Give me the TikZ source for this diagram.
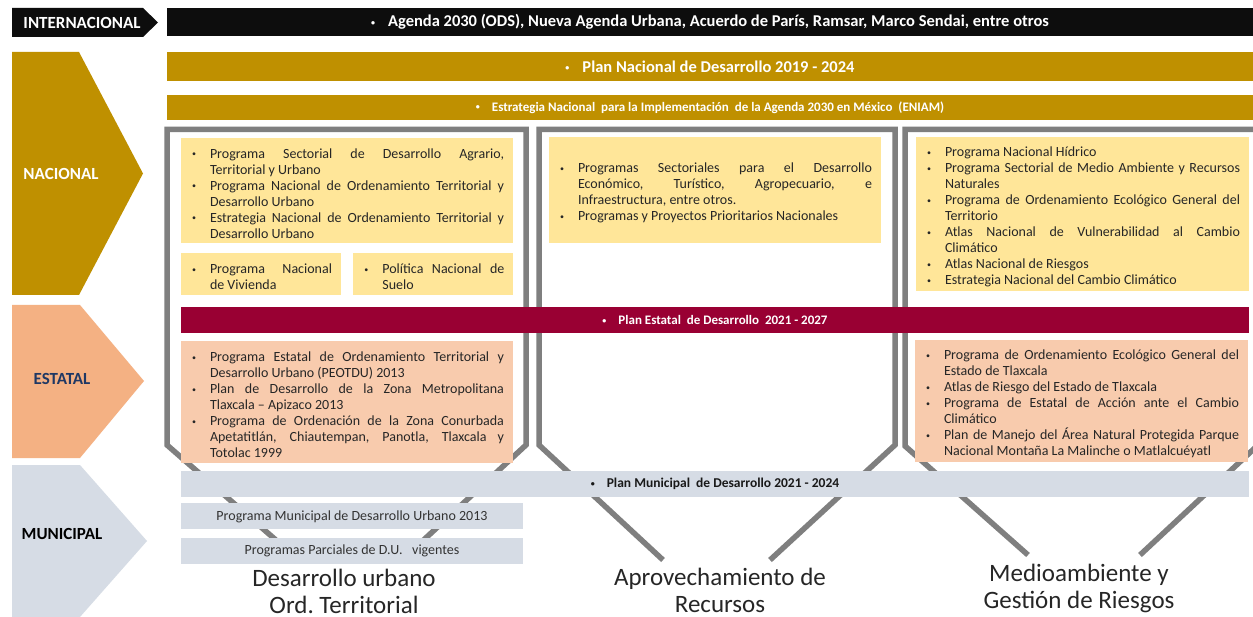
\documentclass[tikz,border=0pt]{standalone}
\usepackage{fontspec}
\setmainfont{Carlito}
\usepackage{tikz}
\usetikzlibrary{positioning}
\definecolor{negro}{HTML}{0D0D0D}
\definecolor{oro}{HTML}{BF9000}
\definecolor{amarillo}{HTML}{FFE699}
\definecolor{salmon}{HTML}{F4B183}
\definecolor{durazno}{HTML}{F8CBAD}
\definecolor{guinda}{HTML}{990033}
\definecolor{azulgris}{HTML}{D6DCE5}
\definecolor{marino}{HTML}{1F3864}
\definecolor{marco}{HTML}{7F7F7F}
\tikzstyle{nivel} = [inner sep=0pt, font=\bfseries\fontsize{17}{19}\selectfont]
\tikzstyle{barra} = [rectangle, minimum width=1068pt, minimum height=26pt, inner sep=0pt, text=white, font=\bfseries\fontsize{13.5}{16}\selectfont]
\tikzstyle{lista} = [rectangle, inner xsep=9pt, inner ysep=0pt, align=justify, text=black!85, font=\fontsize{14}{16}\selectfont]
\tikzstyle{programa} = [rectangle, minimum width=342pt, minimum height=26pt, inner sep=0pt, fill=azulgris, text=black!80, font=\fontsize{14}{16}\selectfont]
\tikzstyle{eje} = [align=center, text=black!85, font=\fontsize{25}{27}\selectfont]
\tikzstyle{embudo} = [draw=marco, line width=5.5pt, miter limit=10]
\newcommand{\vin}{\raisebox{1.5pt}{\fontsize{8}{8}\selectfont\textbullet}}
\newcommand{\itm}[1]{\par\hangindent=20pt\hangafter=1\noindent\makebox[20pt][l]{\hspace{2pt}\vin}#1\par}

\begin{document}
\begin{tikzpicture}[x=1pt, y=-1pt]
				\useasboundingbox (0,0) rectangle (1253,617);
				\fill[white] (0,0) rectangle (1253,617);
	
				\fill[negro] (12,8) -- (143,8) -- (158,22.5) -- (143,37) -- (12,37) -- cycle;
				\fill[oro] (12,52) -- (79,52) -- (143,173.5) -- (79,295) -- (12,295) -- cycle;
				\fill[salmon] (12,305) -- (80,305) -- (144,381) -- (80,458) -- (12,458) -- cycle;
				\fill[azulgris] (12,465) -- (80,465) -- (147,541) -- (80,617) -- (12,617) -- cycle;
				\node (internacional) [nivel, text=white] at (82,22.5) {INTERNACIONAL};
				\node (nacional) [nivel, text=white] at (61,173.5) {NACIONAL};
				\node (estatal) [nivel, text=marino] at (62,379) {ESTATAL};
				\node (municipal) [nivel, text=black] at (62,534) {MUNICIPAL};
	
				\draw[embudo] (285,548) -- (167,445) -- (167,129.5) -- (526,129.5) -- (526,445) -- (415,548);
				\draw[embudo] (663,560) -- (539,445) -- (539,129.5) -- (895,129.5) -- (895,445) -- (770,560);
				\draw[embudo] (1028,555) -- (905,446) -- (905,129.5) -- (1257,129.5) -- (1257,446) -- (1140,555);
	
				\node (agenda) [barra, fill=negro, minimum width=1086pt, minimum height=28pt, font=\bfseries\fontsize{16.5}{18}\selectfont] at (710,22) {\vin\hspace{13pt}Agenda 2030 (ODS), Nueva Agenda Urbana, Acuerdo de París, Ramsar, Marco Sendai, entre otros};
				\node (pnd) [barra, fill=oro, minimum width=1086pt, minimum height=29pt, font=\bfseries\fontsize{16.5}{18}\selectfont] at (710,66.5) {\vin\hspace{13pt}Plan Nacional de Desarrollo 2019 - 2024};
				\node (eniam) [barra, fill=oro, minimum width=1086pt, minimum height=25pt, font=\bfseries\fontsize{13}{15}\selectfont] at (710,107.5) {\vin\hspace{12pt}Estrategia Nacional\ \ para la Implementación\ \ de la Agenda 2030 en México\ \ (ENIAM)};
	
				\node (nacurb) [lista, fill=amarillo, text width=314pt, minimum height=105pt] at (347,190.5) {%
					\itm{Programa Sectorial de Desarrollo Agrario,\linebreak Territorial y Urbano}
					\itm{Programa Nacional de Ordenamiento Territorial y\linebreak Desarrollo Urbano}
					\itm{Estrategia Nacional de Ordenamiento Territorial y\linebreak Desarrollo Urbano}};
				\node (vivienda) [lista, fill=amarillo, text width=142pt, minimum height=42pt] at (261,274) {%
					\itm{Programa Nacional\linebreak de Vivienda}};
				\node (suelo) [lista, fill=amarillo, text width=142pt, minimum height=42pt, right=12pt of vivienda] {%
					\itm{Política Nacional de\linebreak Suelo}};
				\node (nacrec) [lista, fill=amarillo, text width=314pt, minimum height=106pt] at (715,190) {%
					\itm{Programas Sectoriales para el Desarrollo\linebreak Económico, Turístico, Agropecuario, e\linebreak Infraestructura, entre otros.}
					\itm{Programas y Proyectos Prioritarios Nacionales}};
				\node (nacamb) [lista, fill=amarillo, text width=315pt, minimum height=154pt] at (1082.5,214) {%
					\itm{Programa Nacional Hídrico}
					\itm{Programa Sectorial de Medio Ambiente y Recursos\linebreak Naturales}
					\itm{Programa de Ordenamiento Ecológico General del\linebreak Territorio}
					\itm{Atlas Nacional de Vulnerabilidad al Cambio\linebreak Climático}
					\itm{Atlas Nacional de Riesgos}
					\itm{Estrategia Nacional del Cambio Climático}};
	
				\node (ped) [barra, fill=guinda, font=\bfseries\fontsize{13}{16}\selectfont] at (715,320) {\vin\hspace{12pt}Plan Estatal\ \ de Desarrollo\ \ 2021 - 2027};
				\node (esturb) [lista, fill=durazno, text width=314pt, minimum height=122pt] at (347,402) {%
					\itm{Programa Estatal de Ordenamiento Territorial y\linebreak Desarrollo Urbano (PEOTDU) 2013}
					\itm{Plan de Desarrollo de la Zona Metropolitana\linebreak Tlaxcala – Apizaco 2013}
					\itm{Programa de Ordenación de la Zona Conurbada\linebreak Apetatitlán, Chiautempan, Panotla, Tlaxcala y\linebreak Totolac 1999}};
				\node (estamb) [lista, fill=durazno, text width=315pt, minimum height=122pt] at (1081.5,401) {%
					\itm{Programa de Ordenamiento Ecológico General del\linebreak Estado de Tlaxcala}
					\itm{Atlas de Riesgo del Estado de Tlaxcala}
					\itm{Programa de Estatal de Acción ante el Cambio\linebreak Climático}
					\itm{Plan de Manejo del Área Natural Protegida Parque\linebreak Nacional Montaña La Malinche o Matlalcuéyatl}};
	
				\node (pmd) [barra, fill=azulgris, text=black!90] at (715,484) {\vin\hspace{12pt}Plan Municipal\ \ de Desarrollo 2021 - 2024};
				\node (pmdu) [programa, below right=6pt and 0pt of pmd.south west] {Programa Municipal de Desarrollo Urbano 2013};
				\node (parciales) [programa, below=8pt of pmdu] {Programas Parciales de D.U.\ \ \ vigentes};
	
				\node (urbano) [eje] at (344,591) {Desarrollo urbano\\Ord.\ Territorial};
				\node (recursos) [eje] at (720,590) {Aprovechamiento de\\Recursos};
				\node (riesgos) [eje] at (1079,588) {Medioambiente y\\Gestión de Riesgos};
			\end{tikzpicture}
\end{document}
